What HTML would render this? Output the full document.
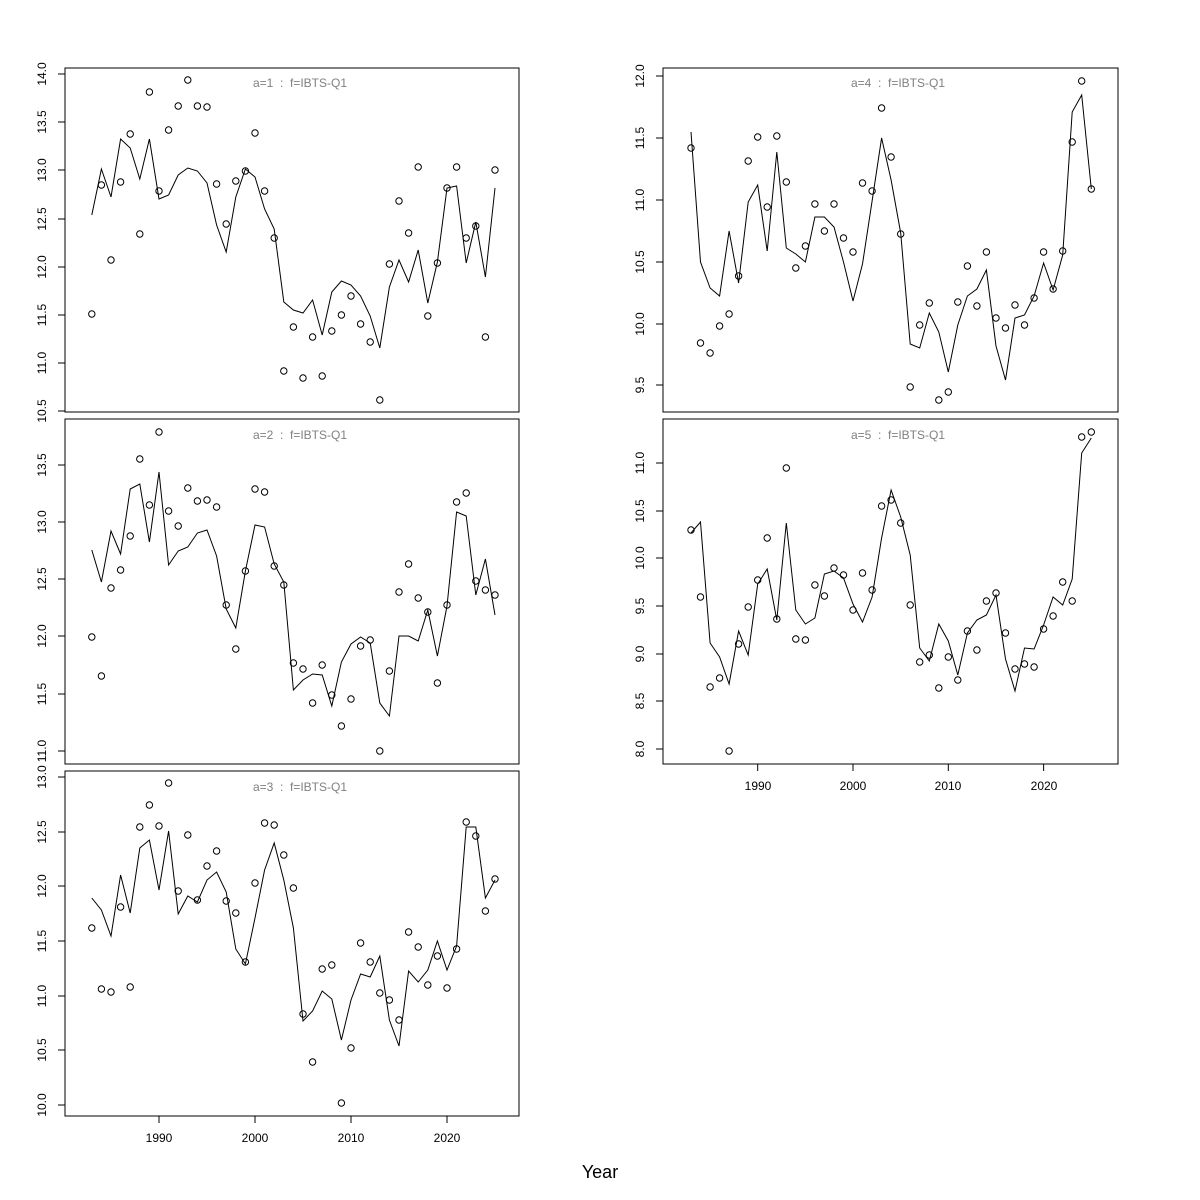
<!DOCTYPE html>
<html><head><meta charset="utf-8"><style>body{margin:0;background:#fff}svg{display:block;font-family:"Liberation Sans",sans-serif}text{white-space:pre}</style></head>
<body>
<svg id="s" width="1200" height="1200" xmlns="http://www.w3.org/2000/svg">
<rect width="1200" height="1200" fill="#fff"/>
<g fill="none" stroke="#000" stroke-width="1">
<rect x="65" y="68" width="454" height="344"/>
<rect x="65" y="419" width="454" height="345"/>
<rect x="65" y="771" width="454" height="345"/>
<rect x="663" y="68" width="455" height="344"/>
<rect x="663" y="419" width="455" height="345"/>
</g>
<g font-size="12" fill="#808080" text-anchor="middle">
<text x="300" y="87" xml:space="preserve">a=1  :  f=IBTS-Q1</text>
<text x="300" y="439" xml:space="preserve">a=2  :  f=IBTS-Q1</text>
<text x="300" y="791" xml:space="preserve">a=3  :  f=IBTS-Q1</text>
<text x="898" y="87" xml:space="preserve">a=4  :  f=IBTS-Q1</text>
<text x="898" y="439" xml:space="preserve">a=5  :  f=IBTS-Q1</text>
</g>
<g font-size="12" fill="#000" text-anchor="middle">
<text transform="translate(46,74) rotate(-90)">14.0</text>
<text transform="translate(46,122) rotate(-90)">13.5</text>
<text transform="translate(46,170) rotate(-90)">13.0</text>
<text transform="translate(46,219) rotate(-90)">12.5</text>
<text transform="translate(46,267) rotate(-90)">12.0</text>
<text transform="translate(46,315) rotate(-90)">11.5</text>
<text transform="translate(46,363) rotate(-90)">11.0</text>
<text transform="translate(46,411) rotate(-90)">10.5</text>
<text transform="translate(46,465) rotate(-90)">13.5</text>
<text transform="translate(46,522) rotate(-90)">13.0</text>
<text transform="translate(46,579) rotate(-90)">12.5</text>
<text transform="translate(46,636) rotate(-90)">12.0</text>
<text transform="translate(46,694) rotate(-90)">11.5</text>
<text transform="translate(46,751) rotate(-90)">11.0</text>
<text transform="translate(46,777) rotate(-90)">13.0</text>
<text transform="translate(46,832) rotate(-90)">12.5</text>
<text transform="translate(46,886) rotate(-90)">12.0</text>
<text transform="translate(46,941) rotate(-90)">11.5</text>
<text transform="translate(46,996) rotate(-90)">11.0</text>
<text transform="translate(46,1050) rotate(-90)">10.5</text>
<text transform="translate(46,1105) rotate(-90)">10.0</text>
<text transform="translate(644,76) rotate(-90)">12.0</text>
<text transform="translate(644,138) rotate(-90)">11.5</text>
<text transform="translate(644,200) rotate(-90)">11.0</text>
<text transform="translate(644,262) rotate(-90)">10.5</text>
<text transform="translate(644,324) rotate(-90)">10.0</text>
<text transform="translate(644,385) rotate(-90)">9.5</text>
<text transform="translate(644,463) rotate(-90)">11.0</text>
<text transform="translate(644,511) rotate(-90)">10.5</text>
<text transform="translate(644,558) rotate(-90)">10.0</text>
<text transform="translate(644,606) rotate(-90)">9.5</text>
<text transform="translate(644,654) rotate(-90)">9.0</text>
<text transform="translate(644,701) rotate(-90)">8.5</text>
<text transform="translate(644,749) rotate(-90)">8.0</text>
<text x="159" y="1142">1990</text>
<text x="255" y="1142">2000</text>
<text x="351" y="1142">2010</text>
<text x="447" y="1142">2020</text>
<text x="758" y="790">1990</text>
<text x="853" y="790">2000</text>
<text x="948" y="790">2010</text>
<text x="1044" y="790">2020</text>
<text x="600" y="1178" font-size="18">Year</text>
</g>
<g id="d" stroke="#000" fill="none" stroke-width="1"></g>
</svg>
<script>
var P=[
{x0:91.8,dx:9.6,yt:[74,122,170,219,267,315,363,411],bx:null,
p:[314,185,260,182,134,234,92,191,130,106,80,106,107,184,224,181,171,133,191,238,371,327,378,337,376,331,315,296,324,342,400,264,201,233,167,316,263,188,167,238,226,337,170],
l:[215,169,197,139,148,179,139,199,195,175,168,171,183,225,252,197,169,177,209,229,302,310,313,300,335,292,281,285,296,316,348,287,260,282,250,303,262,188,186,263,222,277,188]},
{x0:91.8,dx:9.6,yt:[465,522,579,636,694,751],
p:[637,676,588,570,536,459,505,432,511,526,488,501,500,507,605,649,571,489,492,566,585,663,669,703,665,695,726,699,646,640,751,671,592,564,598,612,683,605,502,493,581,590,595],
l:[550,582,531,554,489,484,542,472,565,551,547,533,530,556,609,628,571,525,527,564,582,690,680,674,675,706,662,644,637,643,703,716,636,636,641,610,656,606,512,516,595,559,615]},
{x0:91.8,dx:9.6,yt:[777,832,886,941,996,1050,1105],bx:1116,
p:[928,989,992,907,987,827,805,826,783,891,835,900,866,851,901,913,962,883,823,825,855,888,1014,1062,969,965,1103,1048,943,962,993,1000,1020,932,947,985,956,988,949,822,836,911,879],
l:[898,910,936,875,913,848,840,890,831,914,896,902,880,872,892,949,964,918,870,843,880,928,1021,1011,991,999,1040,1000,974,977,956,1020,1046,971,982,970,941,970,946,827,827,898,880]},
{x0:691,dx:9.53,yt:[76,138,200,262,324,385],
p:[148,343,353,326,314,276,161,137,207,136,182,268,246,204,231,204,238,252,183,191,108,157,234,387,325,303,400,392,302,266,306,252,318,328,305,325,298,252,289,251,142,81,189],
l:[132,262,288,296,231,283,202,185,251,152,248,254,262,217,217,227,262,301,264,201,138,180,233,344,348,313,332,372,325,296,289,270,346,380,318,315,296,263,290,255,112,95,189]},
{x0:691,dx:9.53,yt:[463,511,558,606,654,701,749],bx:764,
p:[530,597,687,678,751,644,607,580,538,619,468,639,640,585,596,568,575,610,573,590,506,500,523,605,662,655,688,657,680,631,650,601,593,633,669,664,667,629,616,582,601,437,432],
l:[533,522,643,657,684,631,655,584,569,620,523,610,624,618,574,571,578,604,622,597,538,490,517,555,648,661,624,641,675,633,620,615,595,659,691,648,649,625,597,605,579,453,438]}
];
var g=document.getElementById('d'),h='';
P.forEach(function(o,k){
 var ax=o.x0<600?65:663;
 o.yt.forEach(function(y){h+='<line x1="'+(ax-7)+'" y1="'+y+'" x2="'+ax+'" y2="'+y+'"/>';});
 h+='<line x1="'+ax+'" y1="'+o.yt[0]+'" x2="'+ax+'" y2="'+o.yt[o.yt.length-1]+'"/>';
 if(o.bx){[1990,2000,2010,2020].forEach(function(yr){var x=o.x0+(yr-1983)*o.dx;h+='<line x1="'+x+'" y1="'+o.bx+'" x2="'+x+'" y2="'+(o.bx+7)+'"/>';});
  h+='<line x1="'+(o.x0+7*o.dx)+'" y1="'+o.bx+'" x2="'+(o.x0+37*o.dx)+'" y2="'+o.bx+'"/>';}
 var pts=o.l.map(function(y,i){return (o.x0+i*o.dx).toFixed(1)+','+y;}).join(' ');
 h+='<polyline points="'+pts+'"/>';
 o.p.forEach(function(y,i){h+='<circle cx="'+(o.x0+i*o.dx).toFixed(1)+'" cy="'+y+'" r="3.2"/>';});
});
g.innerHTML=h;
</script>
</body></html>
